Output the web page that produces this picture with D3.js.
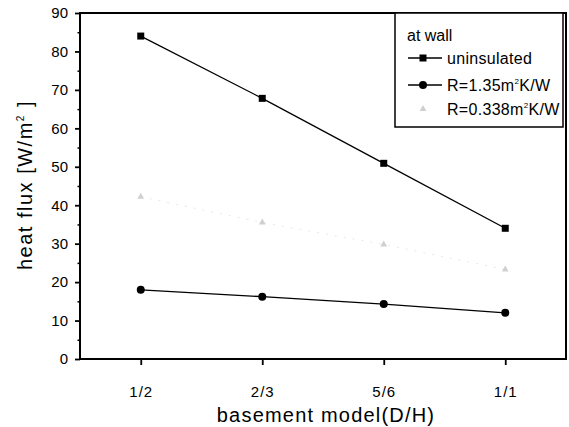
<!DOCTYPE html>
<html>
<head>
<meta charset="utf-8">
<script src="https://cdn.jsdelivr.net/npm/d3@7"></script>
<style>
    body { margin: 0; background: #fff; }
    svg { display: block; font-family: "Liberation Sans", Arial, sans-serif; }
</style>
</head>
<body>
<svg width="569" height="427"></svg>
<script>
    // data
    const categories = ["1/2", "2/3", "5/6", "1/1"];
    const uninsulated = [84.0, 67.8, 50.9, 34.0];
    const r135 = [18.0, 16.2, 14.3, 12.0];
    const r0338 = [42.2, 35.5, 29.8, 23.3];
    const yTicks = [0, 10, 20, 30, 40, 50, 60, 70, 80, 90];

    const svg = d3.select("svg");
    const mLeft = 80, mRight = 566, mTop = 13, mBottom = 359;

    const x = d3.scalePoint().domain(categories).range([mLeft, mRight]).padding(0.5);
    const y = d3.scaleLinear().domain([0, 90]).range([mBottom, mTop]);

    // minor y ticks at the 5s
    svg.append("g")
        .attr("transform", "translate(" + mLeft + ",0)")
        .call(d3.axisLeft(y).tickValues(d3.range(5, 90, 10)).tickSize(2.5).tickFormat(""))
        .call(g => g.select(".domain").remove())
        .call(g => g.selectAll("line").attr("stroke-width", 1.5));

    const yAxis = svg.append("g")
        .attr("transform", "translate(" + mLeft + ",0)")
        .call(d3.axisLeft(y).tickValues(yTicks).tickSize(5).tickPadding(7));
    yAxis.select(".domain").remove();
    yAxis.selectAll("line").attr("stroke-width", 1.8);
    yAxis.selectAll("text").attr("font-size", 15).attr("fill", "#000")
        .attr("font-family", "Liberation Sans, Arial, sans-serif");

    const xAxis = svg.append("g")
        .attr("transform", "translate(0," + mBottom + ")")
        .call(d3.axisBottom(x).tickSize(6).tickPadding(21));
    xAxis.select(".domain").remove();
    xAxis.selectAll("line").attr("stroke-width", 1.8);
    xAxis.selectAll("text").attr("font-size", 15).attr("fill", "#000")
        .attr("letter-spacing", 1)
        .attr("font-family", "Liberation Sans, Arial, sans-serif");

    // frame
    svg.append("rect")
        .attr("x", mLeft).attr("y", mTop)
        .attr("width", mRight - mLeft).attr("height", mBottom - mTop)
        .attr("fill", "none").attr("stroke", "#000").attr("stroke-width", 2);

    const line = d3.line().x((d, i) => x(categories[i])).y(d => y(d));

    // R=0.338 (very faint in the original)
    svg.append("path").datum(r0338)
        .attr("d", line).attr("fill", "none")
        .attr("stroke", "#e8e8e8").attr("stroke-width", 1)
        .attr("stroke-dasharray", "2,7");
    const tri = d3.symbol().type(d3.symbolTriangle).size(20);
    svg.selectAll(".tri").data(r0338).enter().append("path")
        .attr("class", "tri")
        .attr("d", tri)
        .attr("transform", (d, i) => "translate(" + x(categories[i]) + "," + y(d) + ")")
        .attr("fill", "#d0d0d0");

    // uninsulated
    svg.append("path").datum(uninsulated)
        .attr("d", line).attr("fill", "none")
        .attr("stroke", "#000").attr("stroke-width", 1.3);
    svg.selectAll(".sq").data(uninsulated).enter().append("rect")
        .attr("class", "sq")
        .attr("x", (d, i) => x(categories[i]) - 3.5)
        .attr("y", d => y(d) - 3.5)
        .attr("width", 7).attr("height", 7)
        .attr("fill", "#000");

    // R=1.35
    svg.append("path").datum(r135)
        .attr("d", line).attr("fill", "none")
        .attr("stroke", "#000").attr("stroke-width", 1.3);
    svg.selectAll(".ci").data(r135).enter().append("circle")
        .attr("class", "ci")
        .attr("cx", (d, i) => x(categories[i]))
        .attr("cy", d => y(d))
        .attr("r", 4)
        .attr("fill", "#000");

    // axis titles
    svg.append("text")
        .attr("x", 326).attr("y", 422)
        .attr("text-anchor", "middle")
        .attr("font-size", 20).attr("letter-spacing", 1.2)
        .text("basement model(D/H)");

    const yt = svg.append("text")
        .attr("transform", "translate(32,185) rotate(-90)")
        .attr("text-anchor", "middle")
        .attr("font-size", 20).attr("letter-spacing", 1.5);
    yt.append("tspan").text("heat flux [W/m");
    yt.append("tspan").attr("font-size", 10).attr("dy", -8).text("2");
    yt.append("tspan").attr("dy", 8).text(" ]");

    // legend
    const lg = svg.append("g");
    lg.append("rect")
        .attr("x", 395).attr("y", mTop)
        .attr("width", 168).attr("height", 114)
        .attr("fill", "#fff").attr("stroke", "#000").attr("stroke-width", 1.5);
    lg.append("text").attr("x", 407).attr("y", 41)
        .attr("font-size", 16).text("at wall");

    const items = [
        { label: "uninsulated", kind: "sq", yy: 58 },
        { label: "R=1.35m", kind: "ci", yy: 85 },
        { label: "R=0.338m", kind: "tri", yy: 109 }
    ];
    items.forEach(it => {
        if (it.kind !== "tri") {
            lg.append("line").attr("x1", 408).attr("x2", 442)
                .attr("y1", it.yy).attr("y2", it.yy)
                .attr("stroke", "#000").attr("stroke-width", 1.3);
        }
        if (it.kind === "sq") {
            lg.append("rect").attr("x", 419.5).attr("y", it.yy - 3.5)
                .attr("width", 7).attr("height", 7).attr("fill", "#000");
        } else if (it.kind === "ci") {
            lg.append("circle").attr("cx", 423).attr("cy", it.yy).attr("r", 4).attr("fill", "#000");
        } else {
            lg.append("path").attr("d", tri)
                .attr("transform", "translate(423," + it.yy + ")").attr("fill", "#d0d0d0");
        }
        const t = lg.append("text").attr("x", 447).attr("y", it.yy + 6).attr("font-size", 16)
            .attr("letter-spacing", 0.3);
        t.append("tspan").text(it.label);
        if (it.kind !== "sq") {
            t.append("tspan").attr("font-size", 8).attr("dy", -7).text("2");
            t.append("tspan").attr("dy", 7).text("K/W");
        }
    });
</script>
</body>
</html>
